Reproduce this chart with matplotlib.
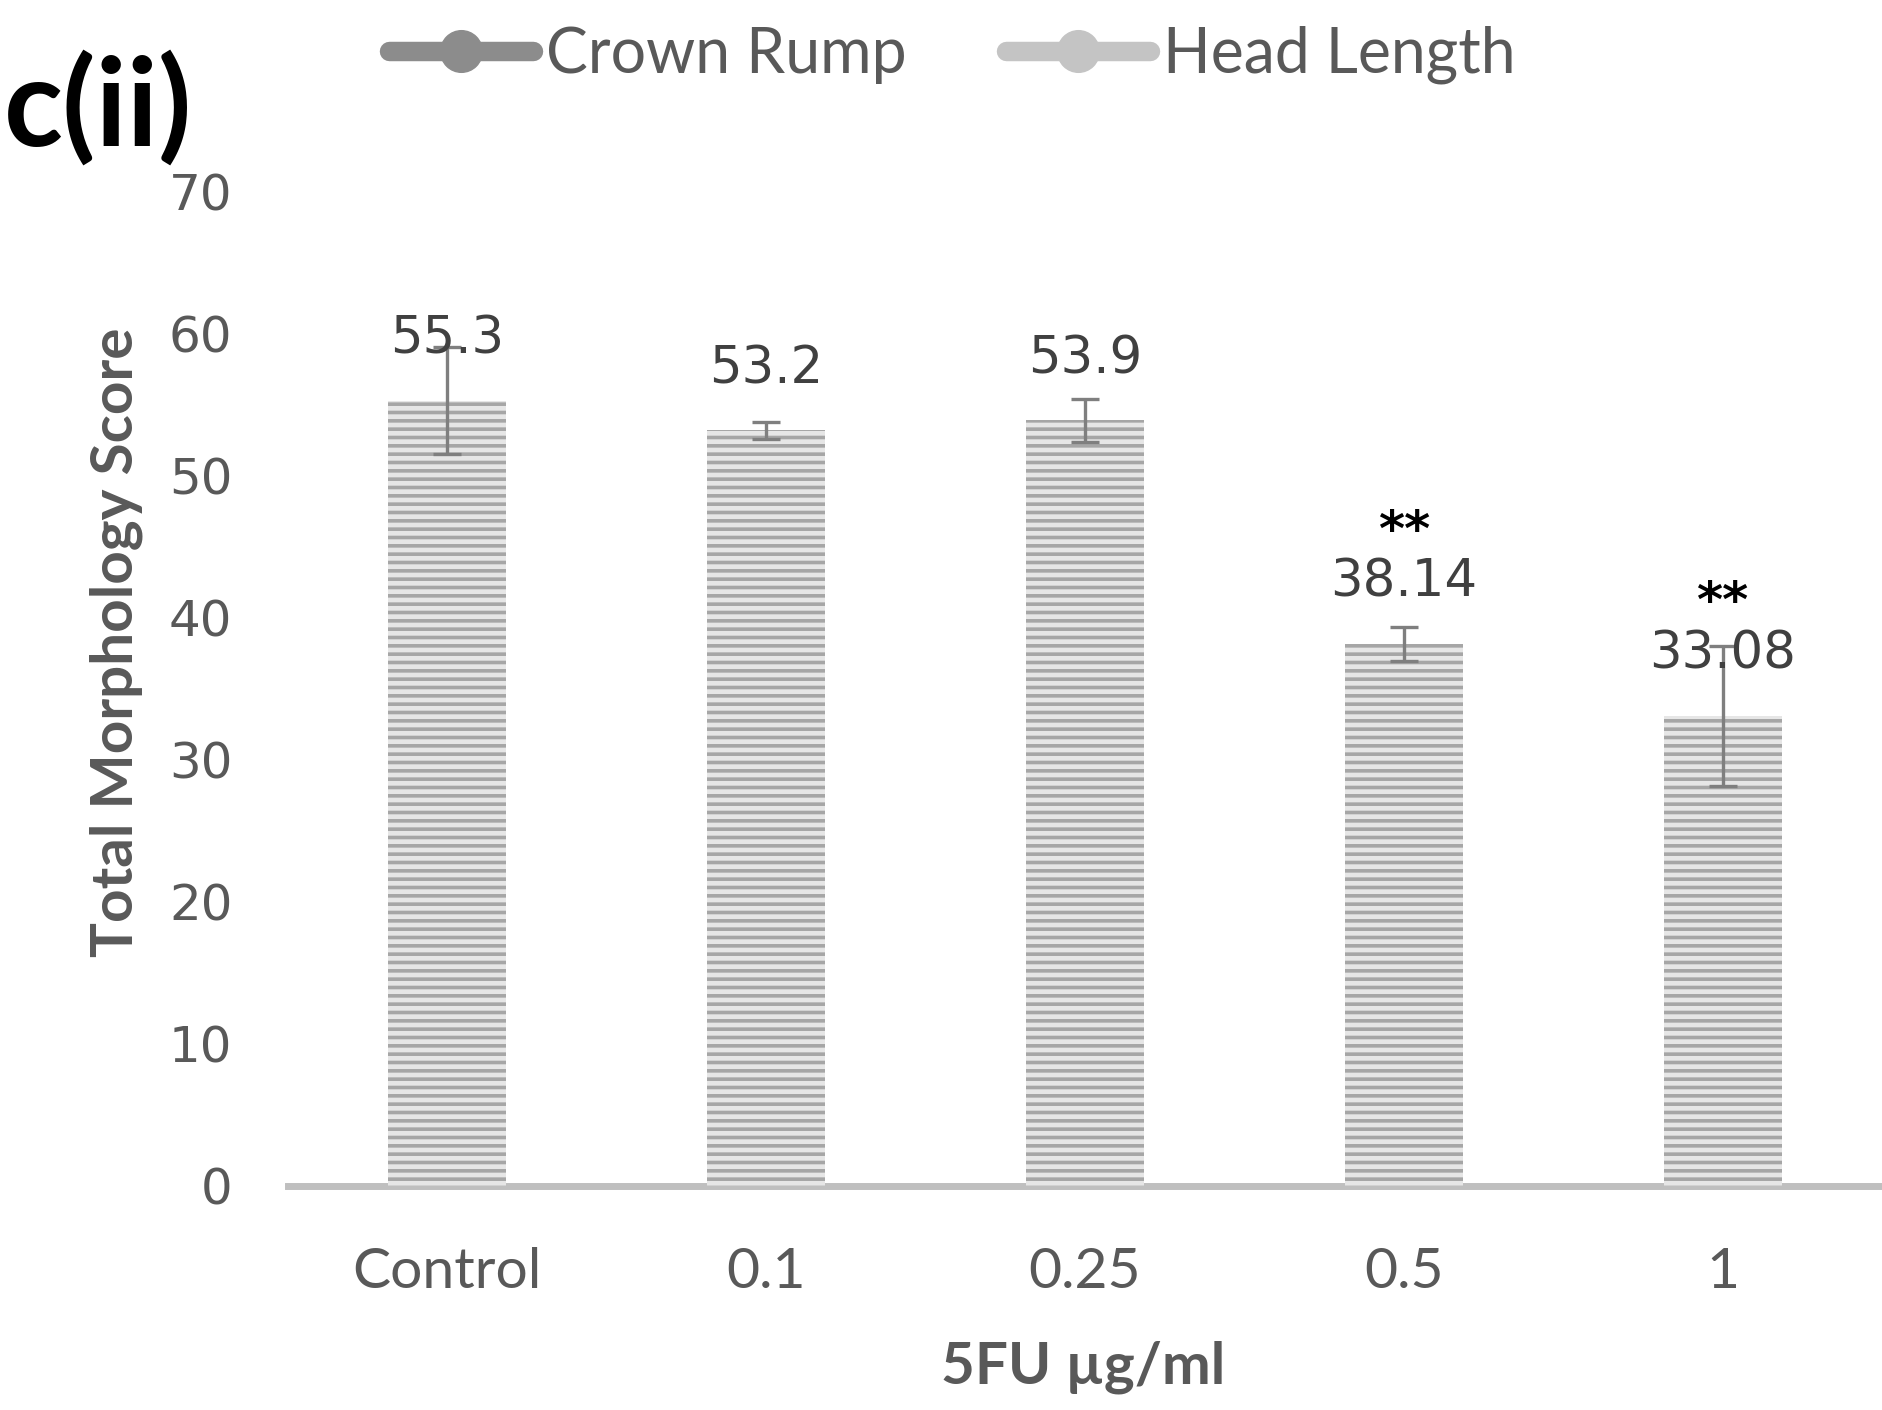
import matplotlib.pyplot as plt
from matplotlib.lines import Line2D

categories = ['Control', '0.1', '0.25', '0.5', '1']
scores = [55.3, 53.2, 53.9, 38.14, 33.08]
errors = [3.8, 0.6, 1.5, 1.2, 4.9]
value_labels = ['55.3', '53.2', '53.9', '38.14', '33.08']
stars = ['', '', '', '**', '**']

plt.rcParams['hatch.linewidth'] = 2.6

fig = plt.figure(figsize=(18.82, 14.10), dpi=100)
ax = fig.add_axes([0.153, 0.159, 0.847, 0.705])

x = range(len(categories))
ax.bar(x, scores, width=0.37, color='#e6e6e6', edgecolor='#a6a6a6',
       linewidth=0, hatch='--', zorder=2)
ax.errorbar(x, scores, yerr=errors, fmt='none', ecolor='#7f7f7f',
            elinewidth=2.4, capsize=10, capthick=2.4, zorder=3)

for i, v in enumerate(scores):
    ax.annotate(value_labels[i], (i, v), xytext=(0, 34), textcoords='offset points',
                ha='center', va='baseline', fontsize=37, color='#404040',
                family='DejaVu Sans', zorder=4)
    if stars[i]:
        ax.annotate(stars[i], (i, v), xytext=(0, 71), textcoords='offset points',
                    ha='center', va='baseline', fontsize=36, color='black',
                    family='DejaVu Sans', fontweight='bold', zorder=4)

ax.set_xlim(-0.5, 4.5)
ax.set_ylim(0, 70)
ax.set_yticks(range(0, 71, 10))
ax.set_xticks(list(x))
ax.set_xticklabels(categories, family='Lato', fontsize=41, color='#595959')
for lbl in ax.get_yticklabels():
    lbl.set_family('DejaVu Sans')
    lbl.set_fontsize(36)
    lbl.set_color('#595959')
ax.tick_params(axis='y', length=0, pad=40)
ax.tick_params(axis='x', length=0, pad=44)

for side in ['top', 'right', 'left']:
    ax.spines[side].set_visible(False)
ax.spines['bottom'].set_color('#bfbfbf')
ax.spines['bottom'].set_linewidth(5)
ax.spines['bottom'].set_zorder(1)

ax.set_xlabel('5FU µg/ml', family='Lato', fontweight='bold', fontsize=42,
              color='#595959', va='center')
ax.xaxis.set_label_coords(0.499, -0.183)
ax.set_ylabel('Total Morphology Score', family='Lato', fontweight='bold',
              fontsize=42, color='#595959', va='center')
ax.yaxis.set_label_coords(-0.108, 0.547)

handles = [
    Line2D([], [], color='#8c8c8c', lw=14, marker='o', markersize=30,
           solid_capstyle='round'),
    Line2D([], [], color='#c4c4c4', lw=14, marker='o', markersize=30,
           solid_capstyle='round'),
]
fig.legend(handles, ['Crown Rump', 'Head Length'], loc='center',
           bbox_to_anchor=(0.506, 0.961), ncol=2, frameon=False,
           handlelength=2.3, handletextpad=0.2, columnspacing=1.6,
           prop={'family': 'Lato', 'size': 45}, labelcolor='#595959')

# panel tag in the top-left corner
fig.text(0.002, 0.923, 'c(ii)', ha='left', va='center', fontsize=88,
         family='Lato', fontweight='bold', color='black')

fig.savefig('out.png', dpi=100)
